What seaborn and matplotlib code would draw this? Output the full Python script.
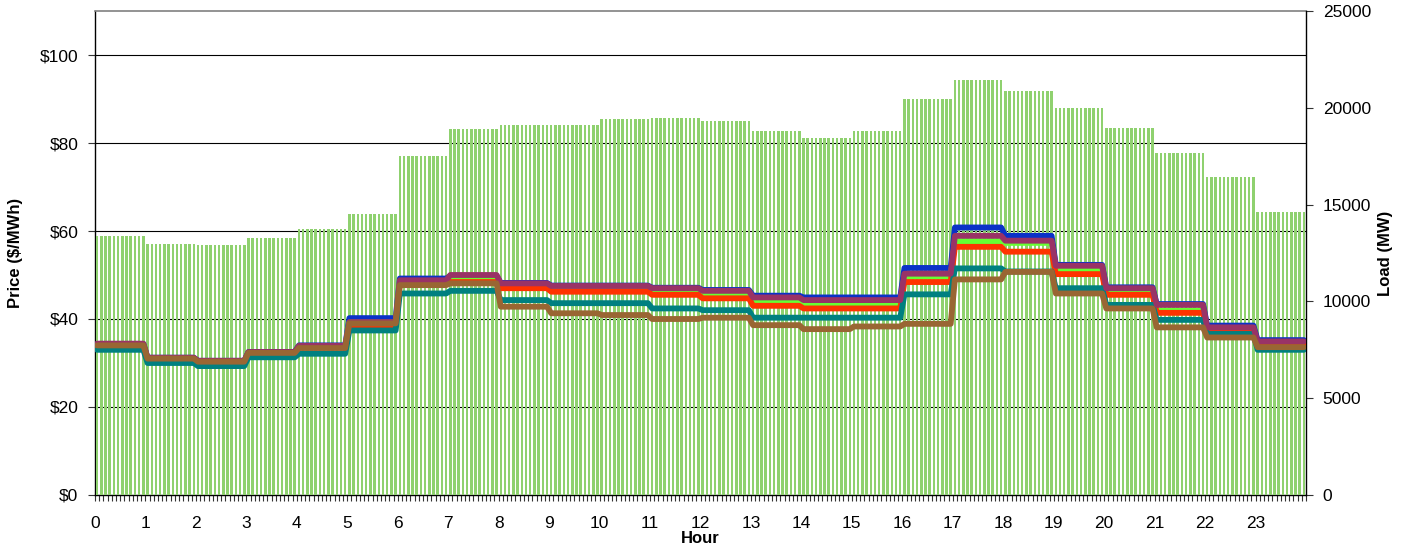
import numpy as np
import matplotlib
matplotlib.use("Agg")
import matplotlib.pyplot as plt
import seaborn as sns
from matplotlib.ticker import MultipleLocator, FuncFormatter

sns.set_theme(style="white")
plt.rcParams["font.family"] = ["Liberation Sans", "DejaVu Sans"]
plt.rcParams["text.color"] = "black"
plt.rcParams["axes.labelcolor"] = "black"
plt.rcParams["xtick.color"] = "black"
plt.rcParams["ytick.color"] = "black"

# ---------------- data (hourly, each hour shown as 12 five-minute intervals) ----------------
hours = list(range(24))
hour_labels = [str(h) for h in hours]

load_mw = [13400, 12980, 12920, 13300, 13760, 14540, 17530, 18920, 19130, 19130,
           19430, 19490, 19330, 18820, 18440, 18820, 20470, 21450, 20880, 20000,
           18970, 17680, 16440, 14640]

price_blue = [34.3, 31.2, 30.5, 32.5, 34.0, 40.2, 49.2, 49.8, 48.2, 47.6, 47.6, 47.1,
              46.6, 45.3, 44.9, 44.9, 51.6, 60.8, 58.9, 52.3, 47.2, 43.4, 38.5, 35.2]
price_green = [34.0, 31.0, 30.3, 32.3, 33.8, 39.2, 48.6, 49.3, 47.7, 47.1, 47.1, 46.6,
               45.8, 43.8, 43.4, 43.4, 49.6, 57.7, 57.3, 51.1, 46.2, 41.9, 37.3, 34.4]
price_red = [34.0, 31.0, 30.3, 32.3, 33.6, 38.4, 48.2, 48.4, 47.0, 46.2, 46.2, 45.5,
             44.7, 43.0, 42.4, 42.4, 48.4, 56.4, 55.3, 50.2, 45.5, 41.4, 37.1, 34.2]
price_teal = [33.0, 30.0, 29.3, 31.3, 32.1, 37.4, 45.8, 46.4, 44.3, 43.6, 43.6, 42.4,
              42.0, 40.3, 40.3, 40.3, 45.6, 51.5, 50.8, 47.0, 43.2, 39.8, 36.6, 33.0]
price_purple = [34.4, 31.2, 30.5, 32.5, 33.9, 39.3, 48.8, 50.0, 48.1, 47.5, 47.5, 47.0,
                46.4, 44.9, 44.3, 44.3, 50.3, 58.9, 57.8, 52.1, 47.0, 43.2, 38.1, 34.9]
price_brown = [34.0, 31.0, 30.3, 32.3, 33.4, 39.0, 47.7, 48.1, 42.8, 41.3, 40.9, 40.0,
               40.3, 38.6, 37.7, 38.3, 38.9, 49.0, 50.7, 45.8, 42.4, 38.1, 35.8, 33.6]

series = [
    (price_blue, "#0a32c8"),
    (price_green, "#66ff33"),
    (price_red, "#ff3300"),
    (price_teal, "#008080"),
    (price_purple, "#993366"),
    (price_brown, "#996633"),
]

STEPS = 12  # five-minute intervals per hour
t = np.arange(len(hours) * STEPS) / STEPS + 0.5 / STEPS
load_5min = np.repeat(load_mw, STEPS)

# ---------------- figure ----------------
W, H = 1403, 544
fig = plt.figure(figsize=(W / 100, H / 100), dpi=100)
ax = fig.add_axes([95 / W, 49 / H, 1211 / W, 484 / H])
ax.set_facecolor("white")

# load bars (right axis)
ax2 = ax.twinx()
sns.barplot(x=t, y=load_5min, native_scale=True, color="#8fd16f", saturation=1,
            width=0.6, linewidth=0, errorbar=None, ax=ax2)

# price lines (left scale)
ax3 = ax.twinx()
for vals, col in series:
    sns.lineplot(x=t, y=np.repeat(vals, STEPS), color=col, lw=4.2, ax=ax3,
                 legend=False, solid_joinstyle="round")

# ---------------- axes formatting ----------------
for a in (ax, ax2, ax3):
    a.set_xlim(0, 24)
ax.set_ylim(0, 110)
ax3.set_ylim(0, 110)
ax2.set_ylim(0, 25000)
ax3.axis("off")

ax.yaxis.set_major_locator(MultipleLocator(20))
ax.yaxis.set_major_formatter(FuncFormatter(lambda v, p: f"${v:.0f}"))
ax.grid(axis="y", color="black", lw=0.8)
ax.grid(axis="x", visible=False)
ax.set_axisbelow(True)

ax.set_xticks(hours)
ax.set_xticklabels(hour_labels)
ax.xaxis.set_minor_locator(MultipleLocator(1 / STEPS))
ax.tick_params(axis="x", which="both", direction="out", length=4, width=0.8,
               color="#333333", bottom=True, labelsize=12.5, pad=11)
ax.tick_params(axis="y", which="major", direction="out", length=5, width=0.8,
               color="#333333", left=True, labelsize=12.5, pad=7)

ax2.yaxis.set_major_locator(MultipleLocator(5000))
ax2.tick_params(axis="y", which="major", direction="out", length=5, width=0.8,
                color="#333333", right=True, labelsize=12.5, pad=7)
ax2.grid(False)

ax.set_xlabel("Hour", fontsize=12, fontweight="bold", labelpad=0)
ax.set_ylabel("Price ($/MWh)", fontsize=12, fontweight="bold", labelpad=12)
ax2.set_ylabel("Load (MW)", fontsize=12, fontweight="bold", labelpad=5)

for s in ("left", "bottom"):
    ax.spines[s].set_color("black")
    ax.spines[s].set_linewidth(1.0)
ax.spines["top"].set_color("#808080")
ax.spines["top"].set_linewidth(1.2)
ax.spines["right"].set_visible(False)
for s in ("top", "left", "bottom"):
    ax2.spines[s].set_visible(False)
ax2.spines["right"].set_color("black")
ax2.spines["right"].set_linewidth(1.0)

fig.savefig("out.png", dpi=100, facecolor="white")
